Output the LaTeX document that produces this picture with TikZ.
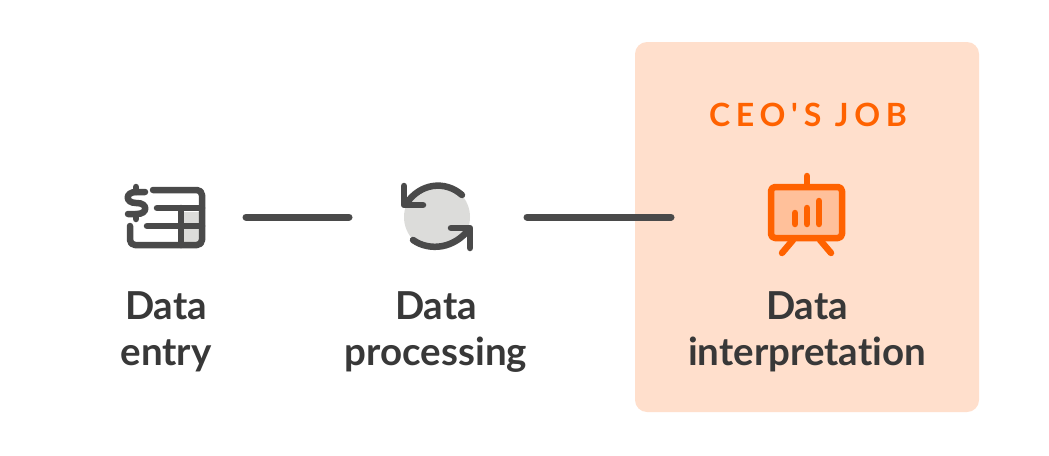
\documentclass[tikz,border=0pt]{standalone}
\usepackage{fontspec}
\setmainfont{Lato}[Ligatures={NoCommon,TeXOff}]
\usepackage{xcolor}
\definecolor{ink}{RGB}{74,74,74}
\definecolor{labelink}{RGB}{56,56,56}
\definecolor{mist}{RGB}{220,220,218}
\definecolor{blaze}{RGB}{255,98,0}
\definecolor{peach}{RGB}{255,223,204}
\definecolor{apricot}{RGB}{255,192,154}
\usetikzlibrary{positioning}
\tikzset{
  %% Empty slots that the connectors run between
  iconslot/.style={inner sep=0pt,outer sep=0pt,minimum height=60pt},
  stageline/.style={draw=ink,line width=7pt,line cap=round},
  iconline/.style={draw=ink,line width=6.5pt,line cap=round,line join=round},
  hotline/.style={draw=blaze,line width=6.5pt,line cap=round,line join=round},
  stagelabel/.style={font=\fontsize{38.5}{46}\selectfont\bfseries,text=labelink,align=center,
                     inner sep=0pt,anchor=north},
}

\begin{document}
\begin{tikzpicture}[x=1pt,y=-1pt]
\useasboundingbox (0,0) rectangle (1049,455);
\fill[white] (0,0) rectangle (1049,455);
\fill[peach,rounded corners=12pt] (635,42) rectangle (979,412);

\node[font=\fontsize{32}{38}\selectfont\bfseries\addfontfeature{LetterSpace=18},text=blaze,inner sep=0pt] (ceojob) at (808,115) {CEO'S JOB};

\node[iconslot,minimum width=162pt] (entry) at (165,217) {};
\node[iconslot,minimum width=178pt] (processing) at (438,217) {};
\node[iconslot,minimum width=272pt] (interpretation) at (807,217) {};

\draw[stageline] (entry) -- (processing);
\draw[stageline] (processing) -- (interpretation);

%% Data entry icon
\fill[mist] (184,212) rectangle (200,223);
\fill[mist] (184,229) rectangle (200,242);
\draw[iconline,rounded corners=5pt] (153,190) -- (202,190) -- (202,245) -- (130,245) -- (130,226);
\draw[iconline] (157,208) -- (202,208);
\draw[iconline] (147,226) -- (202,226);
\draw[iconline] (181,208) -- (181,245);
\draw[iconline] (145,192) -- (136,192) .. controls (125,192) and (125,203) .. (136,203)
  -- (137,203) .. controls (148,203) and (148,214) .. (137,214) -- (128,214);
\draw[iconline] (136,187) -- (136,192);
\draw[iconline] (136,214) -- (136,219);

%% Data processing icon
\fill[mist] (437,217) circle[radius=33];
\draw[iconline] (462,195) .. controls (445,180) and (420,183) .. (406,204);
\draw[iconline] (404,186) -- (404,205) -- (423,205);
\draw[iconline] (413,240) .. controls (430,252) and (455,248) .. (469,229);
\draw[iconline] (451,228) -- (470,228) -- (470,248);

%% Data interpretation icon
\draw[hotline] (807,176) -- (807,187);
\draw[hotline] (793,240) -- (782,253);
\draw[hotline] (820,240) -- (831,253);
\draw[hotline,fill=apricot,rounded corners=4pt] (771,187) rectangle (842,238);
\draw[hotline] (795,213) -- (795,224);
\draw[hotline] (807,208) -- (807,224);
\draw[hotline] (819,201) -- (819,224);

\node[stagelabel] (entrylabel) at (166,291) {Data\\entry};
\node[stagelabel] (processinglabel) at (436,291) {Data\\processing};
\node[stagelabel] (interpretationlabel) at (807,291) {Data\\interpretation};
\end{tikzpicture}
\end{document}
